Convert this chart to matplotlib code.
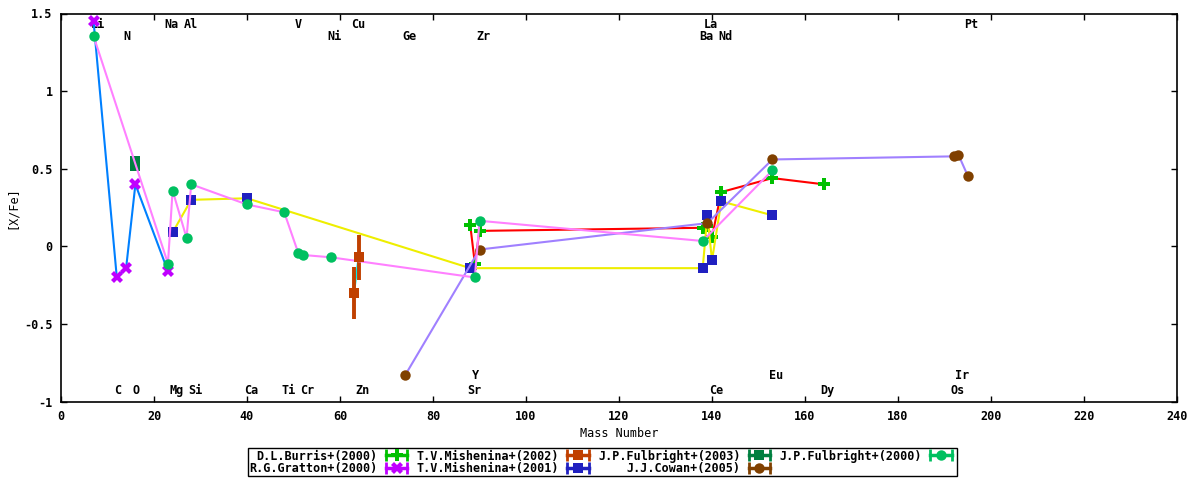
import matplotlib
matplotlib.use("Agg")
import matplotlib.pyplot as plt
from matplotlib.lines import Line2D
from matplotlib.legend_handler import HandlerLine2D, HandlerTuple

plt.rcParams['font.family'] = 'DejaVu Sans Mono'
plt.rcParams['font.weight'] = 'bold'
plt.rcParams['font.size'] = 8.5

# abundances [X/Fe] against mass number, one pair of lists per paper
burris_a = [88, 89, 90, 138, 139, 140, 142, 153, 164]
burris_xfe = [0.14, -0.11, 0.10, 0.12, 0.13, 0.06, 0.35, 0.44, 0.40]

gratton_a = [7, 12, 14, 16, 23]
gratton_xfe = [1.45, -0.20, -0.14, 0.40, -0.16]

mish02_a = [63, 64]
mish02_xfe = [-0.30, -0.07]
mish02_err = [0.17, 0.145]

mish01_a = [24, 28, 40, 88, 138, 139, 140, 142, 153]
mish01_xfe = [0.09, 0.30, 0.31, -0.14, -0.14, 0.20, -0.09, 0.29, 0.20]

fulb03_a = [16, 16]
fulb03_xfe = [0.55, 0.52]

cowan_a = [74, 90, 139, 153, 192, 193, 195]
cowan_xfe = [-0.83, -0.02, 0.15, 0.56, 0.58, 0.59, 0.455]

fulb00_a = [7, 23, 24, 27, 28, 40, 48, 51, 52, 58, 89, 90, 138, 153]
fulb00_xfe = [1.355, -0.11, 0.36, 0.055, 0.40, 0.27, 0.22, -0.04, -0.055,
              -0.07, -0.20, 0.165, 0.035, 0.49]

# element names written on the plot, by mass number
top1_el = ["Li", "Na", "Al", "V", "Cu", "La", "Pt"]
top1_a = [7, 23, 27, 51, 63, 139, 195]
top2_el = ["N", "Ni", "Ge", "Zr", "Ba", "Nd"]
top2_a = [14, 58, 74, 90, 138, 142]
bot1_el = ["Y", "Eu", "Ir"]
bot1_a = [89, 153, 193]
bot2_el = ["C", "O", "Mg", "Si", "Ca", "Ti", "Cr", "Zn", "Sr", "Ce", "Dy", "Os"]
bot2_a = [12, 16, 24, 28, 40, 48, 52, 64, 88, 140, 164, 192]

x_ticks = [0, 20, 40, 60, 80, 100, 120, 140, 160, 180, 200, 220, 240]
y_ticks = [-1, -0.5, 0, 0.5, 1, 1.5]

# (label, x, y, yerr, line colour, point colour, marker, marker size)
series = [
    ("D.L.Burris+(2000)", burris_a, burris_xfe, None, "#ff0000", "#00c000", "P", 8),
    ("R.G.Gratton+(2000)", gratton_a, gratton_xfe, None, "#0080ff", "#c000ff", "X", 8.5),
    ("T.V.Mishenina+(2002)", mish02_a, mish02_xfe, mish02_err, "#00eeee", "#c04000", "s", 6.5),
    ("T.V.Mishenina+(2001)", mish01_a, mish01_xfe, None, "#eeee00", "#2020c0", "s", 7),
    ("J.P.Fulbright+(2003)", fulb03_a, fulb03_xfe, None, "#ffc020", "#008040", "s", 7),
    ("J.J.Cowan+(2005)", cowan_a, cowan_xfe, None, "#a080ff", "#804000", "o", 7.5),
    ("J.P.Fulbright+(2000)", fulb00_a, fulb00_xfe, None, "#ff80ff", "#00c060", "o", 7.5),
]

fig = plt.figure(figsize=(12, 4.8), dpi=100)
ax = fig.add_axes([61 / 1200, 1 - 401.7 / 480, 1116 / 1200, 388.2 / 480])

handles = []
hmap = {}
for label, a, xfe, err, lc, pc, mk, ms in series:
    ax.plot(a, xfe, color=lc, lw=1.5)
    if err is None:
        ax.plot(a, xfe, ls="none", marker=mk, color=pc, ms=ms, mew=0)
    else:
        ax.errorbar(a, xfe, yerr=err, fmt=mk, color=pc, ms=ms, mew=0,
                    elinewidth=2.8, capsize=4.5, capthick=2.5)
    bar = Line2D([], [], color=pc, lw=2.5, marker="|", ms=8, mew=2)
    pt = Line2D([], [], color=pc, ls="none", marker=mk, ms=ms, mew=0)
    hmap[bar] = HandlerLine2D(numpoints=2)
    handles.append((bar, pt))

for names, masses, yrow in [(top1_el, top1_a, 1.426), (top2_el, top2_a, 1.349),
                            (bot1_el, bot1_a, -0.829), (bot2_el, bot2_a, -0.926)]:
    for name, m in zip(names, masses):
        shift = 0.85 if len(name) == 2 else 0.1
        ax.text(m + shift, yrow, name, ha="center", va="center", zorder=1)

ax.set_xlim(0, 240)
ax.set_ylim(-1, 1.5)
ax.set_xticks(x_ticks)
ax.set_yticks(y_ticks)
ax.set_yticklabels(["%g" % v for v in y_ticks])
ax.tick_params(direction="in", length=4, width=1, top=True, right=True, pad=6)
for sp in ax.spines.values():
    sp.set_linewidth(1.2)
ax.set_xlabel("Mass Number", labelpad=3)
ax.set_ylabel("[X/Fe]", labelpad=4)

hmap[tuple] = HandlerTuple(ndivide=1)
leg = fig.legend(handles, [s[0] for s in series], ncol=4, markerfirst=False,
                 loc="upper left", bbox_to_anchor=(248 / 1200, 1 - 448 / 480),
                 handler_map=hmap, handlelength=2.4, handletextpad=0.4,
                 columnspacing=0.5, labelspacing=-0.05, borderpad=0.12,
                 borderaxespad=0, fancybox=False, edgecolor="black", framealpha=1)
leg.get_frame().set_linewidth(1)

fig.savefig("out.png", dpi=100)
